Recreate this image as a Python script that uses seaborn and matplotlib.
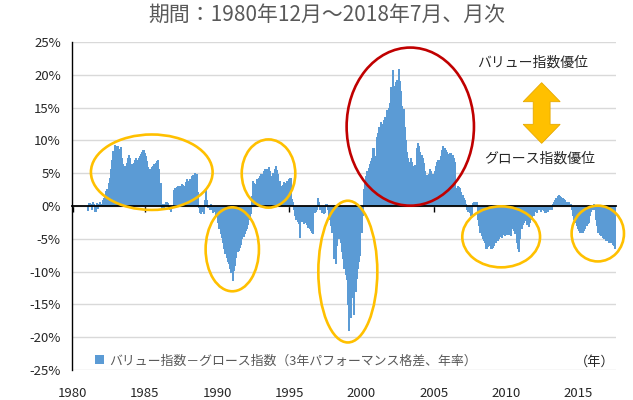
import numpy as np
import pandas as pd
import matplotlib

matplotlib.use("Agg")
import matplotlib.pyplot as plt
from matplotlib.patches import Ellipse, Polygon
import seaborn as sns

# monthly value-minus-growth spread (3y annualised, %), Dec 1980 .. Jul 2018
dec_1980 = [0.0]
y1981 = [0.0] * 12
y1982 = [-0.7, 0.4, 0.3, -0.5, 0.5, 0.3, -0.8, 0.4, -0.4, 0.3, 0.5, 0.3]
y1983 = [0.8, 1.2, 1.5, 2.2, 2.5, 3.5, 4.2, 5.5, 7.0, 8.3, 9.2, 9.0]
y1984 = [8.7, 9.1, 8.6, 8.9, 7.2, 6.3, 5.5, 6.0, 6.5, 7.2, 7.7, 7.2]
y1985 = [6.3, 6.0, 6.5, 7.0, 7.3, 7.0, 7.3, 7.5, 7.8, 8.1, 8.5, 8.0]
y1986 = [7.5, 6.8, 5.8, 5.5, 5.2, 5.8, 6.0, 6.3, 6.5, 6.8, 7.0, 5.5]
y1987 = [3.5, -0.4, 0.2, -0.3, 0.3, 0.5, 0.4, -0.3, -0.6, -0.8, -0.3, 2.3]
y1988 = [2.6, 2.4, 2.8, 3.0, 2.7, 2.9, 3.3, 3.2, 3.0, 3.6, 4.0, 3.6]
y1989 = [3.8, 4.1, 4.5, 4.6, 4.4, 5.0, 4.8, 2.0, -0.3, -1.0, -1.1, -0.9]
y1990 = [-1.2, 0.8, 2.3, 0.8, -0.3, -0.5, 0.3, -0.6, -1.0, -0.8, -1.5, -1.5]
y1991 = [-2.5, -3.5, -4.2, -4.8, -5.5, -6.5, -7.2, -7.8, -8.5, -8.8, -9.5, -10.2]
y1992 = [-11.3, -9.8, -9.0, -7.8, -7.0, -6.8, -6.3, -5.8, -5.0, -4.6, -4.2, -3.8]
y1993 = [-3.5, -2.8, -2.0, -1.2, 1.5, 3.8, 3.5, 3.3, 4.0, 3.8, 4.2, 4.5]
y1994 = [4.8, 4.6, 5.2, 5.5, 5.0, 5.6, 5.8, 5.3, 4.5, 4.2, 5.0, 5.6]
y1995 = [6.0, 5.4, 4.8, 3.8, 3.0, 2.7, 3.2, 3.6, 3.5, 3.8, 3.4, 4.0]
y1996 = [4.2, 1.0, 0.5, -0.5, -1.5, -2.0, -2.3, -2.6, -4.8, -2.2, -2.4, -2.6]
y1997 = [-2.0, -2.5, -2.8, -3.3, -3.5, -3.8, -4.0, -4.2, -1.0, -0.8, -0.5, 1.2]
y1998 = [0.6, -0.5, -1.0, -0.4, -1.2, -1.0, 0.3, -0.5, -1.5, -2.0, -3.0, -4.0]
y1999 = [-8.0, -6.0, -8.7, -6.0, -5.0, -4.5, -5.5, -7.0, -8.0, -9.5, -10.5, -11.2]
y2000 = [-15.0, -19.0, -17.0, -14.0, -12.8, -16.5, -13.0, -11.0, -9.5, -8.5, -7.5, -4.0]
y2001 = [-1.5, 2.5, 3.5, 4.5, 5.2, 5.7, 6.3, 6.8, 7.2, 8.7, 7.5, 6.7]
y2002 = [10.5, 11.0, 12.0, 12.7, 11.7, 12.5, 13.0, 13.5, 14.5, 14.0, 14.8, 15.7]
y2003 = [18.0, 20.7, 18.0, 18.2, 18.8, 19.2, 20.8, 19.0, 17.5, 15.2, 14.7, 12.0]
y2004 = [10.0, 8.2, 7.2, 6.7, 7.2, 6.7, 6.0, 5.7, 6.2, 8.7, 9.5, 9.0]
y2005 = [8.2, 7.7, 7.2, 6.5, 5.2, 4.7, 4.5, 4.8, 5.5, 5.2, 4.8, 4.5]
y2006 = [5.2, 6.0, 6.7, 7.0, 6.7, 7.5, 8.5, 9.0, 8.8, 8.5, 8.2, 7.7]
y2007 = [7.8, 8.0, 7.2, 7.7, 7.2, 6.7, 2.7, 3.0, 2.8, 2.7, 2.0, 1.6]
y2008 = [1.2, 0.8, 0.3, -0.5, -0.8, -1.0, -1.5, -1.3, 0.4, 0.5, 0.6, 0.5]
y2009 = [-2.0, -3.0, -4.0, -4.5, -5.0, -5.3, -5.5, -6.5, -6.2, -6.0, -5.8, -6.5]
y2010 = [-6.3, -6.0, -5.5, -5.5, -5.2, -5.0, -4.5, -4.7, -4.8, -4.3, -4.5, -4.4]
y2011 = [-4.3, -4.0, -4.3, -4.5, -3.5, -3.5, -3.8, -4.2, -5.5, -6.5, -7.0, -5.0]
y2012 = [-3.5, -2.8, -2.5, -1.8, -2.2, -2.8, -3.2, -2.5, -2.0, -1.8, -1.5, -0.8]
y2013 = [-0.7, -1.0, -0.5, -0.6, -0.8, -0.3, -0.5, -0.7, -1.0, -0.5, -0.8, -0.6]
y2014 = [-0.3, -0.5, 0.2, 0.5, 0.8, 1.2, 1.4, 1.6, 1.5, 1.3, 1.2, 1.0]
y2015 = [0.8, 0.6, 0.5, 0.5, 0.3, 0.2, -0.5, -1.5, -2.0, -2.5, -3.0, -3.5]
y2016 = [-3.8, -4.0, -3.8, -4.0, -3.7, -3.5, -3.0, -2.7, -2.5, -1.5, -0.8, -0.5]
y2017 = [0.3, -0.5, -2.0, -3.0, -4.0, -4.3, -4.5, -4.5, -4.8, -5.0, -5.2, -5.0]
y2018 = [-5.3, -5.5, -5.5, -5.3, -5.8, -6.0, -6.5]

year_labels = ["1980", "1985", "1990", "1995", "2000", "2005", "2010", "2015"]

TITLE = "期間：1980年12月～2018年7月、月次"
LEGEND_LABEL = "バリュー指数－グロース指数（3年パフォーマンス格差、年率）"
VALUE_TEXT = "バリュー指数優位"
GROWTH_TEXT = "グロース指数優位"
YEAR_UNIT = "（年）"

BAR_BLUE = "#5B9BD5"
GOLD = "#FFC000"
RED = "#C00000"
TEXT_GRAY = "#595959"

plt.rcParams["font.family"] = ["Noto Sans CJK JP", "DejaVu Sans"]
plt.rcParams["axes.unicode_minus"] = False

spread = np.concatenate([
    dec_1980, y1981, y1982, y1983, y1984, y1985, y1986, y1987, y1988, y1989,
    y1990, y1991, y1992, y1993, y1994, y1995, y1996, y1997, y1998, y1999,
    y2000, y2001, y2002, y2003, y2004, y2005, y2006, y2007, y2008, y2009,
    y2010, y2011, y2012, y2013, y2014, y2015, y2016, y2017, y2018,
])
df = pd.DataFrame({"month": np.arange(len(spread)), "spread": spread})

fig, ax = plt.subplots(figsize=(6.33, 4.0), dpi=100)
fig.subplots_adjust(left=0.1137, right=0.9731, bottom=0.075, top=0.895)

sns.barplot(
    data=df, x="month", y="spread", native_scale=True,
    color=BAR_BLUE, saturation=1, width=1.0, errorbar=None,
    linewidth=0, label=LEGEND_LABEL, ax=ax,
)
# thin monthly bars: draw them aliased so neighbours join without white stripes
for bar in ax.patches:
    bar.set_antialiased(False)
    bar.set_snap(False)

ax.set_xlim(-0.5, len(spread) - 0.5)
ax.set_ylim(-25, 25)
ax.set_xlabel("")
ax.set_ylabel("")

# year ticks sit on the zero line, labels at the bottom
tick_pos = [(int(y) - 1980) * 12 for y in year_labels]
ax.set_xticks(tick_pos)
ax.spines["bottom"].set_position(("data", 0))
ax.spines["bottom"].set_color("black")
ax.spines["bottom"].set_linewidth(1.3)
ax.tick_params(axis="x", direction="out", length=4, width=1, color="black", labelbottom=False)
sec = ax.secondary_xaxis("bottom")
sec.set_xticks(tick_pos, labels=year_labels)
sec.tick_params(length=0, pad=12, labelsize=9.5, labelcolor="#262626")
sec.spines["bottom"].set_visible(False)

ax.set_yticks(range(-25, 26, 5))
ax.yaxis.set_major_formatter(lambda v, p: f"{v:.0f}%")
ax.tick_params(axis="y", length=0, pad=8, labelsize=9.5, labelcolor="#262626")
ax.yaxis.grid(True, color="#d9d9d9", linewidth=1)
ax.set_axisbelow(True)
ax.spines["left"].set_color("black")
ax.spines["left"].set_linewidth(1.0)
ax.spines["top"].set_visible(False)
ax.spines["right"].set_visible(False)

# highlighted regimes
for cx, cy, w, h, col in [
    (65.8, 5.15, 101.1, 11.5, GOLD),
    (162.8, 4.95, 44.5, 10.4, GOLD),
    (132.7, -6.6, 44.3, 12.8, GOLD),
    (228.7, -10.0, 49.0, 21.6, GOLD),
    (280.6, 12.1, 105.8, 24.1, RED),
    (356.1, -4.7, 64.6, 9.3, GOLD),
    (436.4, -4.2, 43.5, 8.5, GOLD),
]:
    ax.add_patch(Ellipse((cx, cy), w, h, fill=False, edgecolor=col,
                         linewidth=1.9, zorder=5, clip_on=False))

# double arrow between the two captions
cx, ytop, ybot, hw, sw, hl = 0.8634, 0.876, 0.691, 0.034, 0.0155, 0.058
arrow = Polygon(
    [(cx, ytop), (cx + hw, ytop - hl), (cx + sw, ytop - hl), (cx + sw, ybot + hl),
     (cx + hw, ybot + hl), (cx, ybot), (cx - hw, ybot + hl), (cx - sw, ybot + hl),
     (cx - sw, ytop - hl), (cx - hw, ytop - hl)],
    closed=True, transform=ax.transAxes, facecolor=GOLD, edgecolor="#E6A800",
    linewidth=0.6, zorder=6,
)
ax.add_patch(arrow)
ax.text(0.8474, 0.937, VALUE_TEXT, transform=ax.transAxes, ha="center", va="center",
        fontsize=10, color="#262626")
ax.text(0.860, 0.646, GROWTH_TEXT, transform=ax.transAxes, ha="center", va="center",
        fontsize=10, color="#262626")
ax.text(0.998, 0.025, YEAR_UNIT, transform=ax.transAxes, ha="right", va="center",
        fontsize=9.5, color="#262626")

ax.legend(loc="lower left", bbox_to_anchor=(0.043, 0.008), frameon=False, fontsize=9.3,
          handlelength=0.7, handleheight=0.7, handletextpad=0.4, borderpad=0,
          borderaxespad=0, labelcolor=TEXT_GRAY)

fig.text(0.5166, 0.9625, TITLE, ha="center", va="center", fontsize=15, color=TEXT_GRAY)

fig.savefig("out.png", dpi=100)
